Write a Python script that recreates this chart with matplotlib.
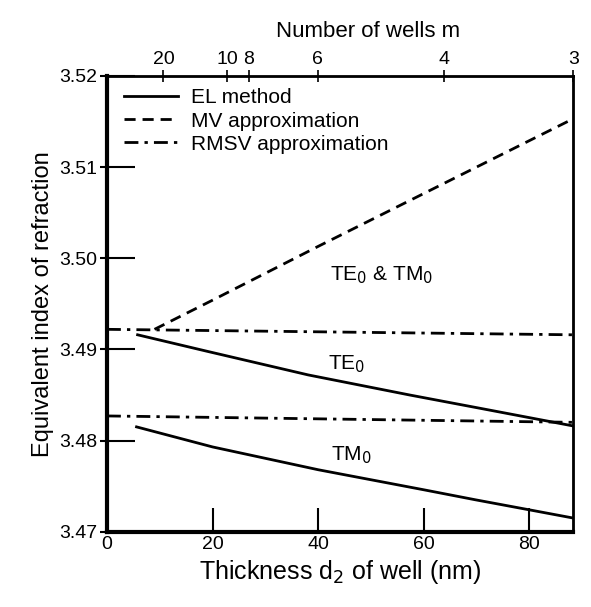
import matplotlib
matplotlib.use("Agg")
import matplotlib.pyplot as plt

plt.rcParams['font.family'] = ['Liberation Sans', 'DejaVu Sans']

# data
te_x = [5.8, 18.9, 38.1, 57.3, 70.1, 88.3]
te_y = [3.4916, 3.4898, 3.4872, 3.4850, 3.4836, 3.4816]

tm_x = [5.6, 20, 40, 60, 69.8, 80, 88.3]
tm_y = [3.4815, 3.4793, 3.4768, 3.4746, 3.4735, 3.4724, 3.4715]

mv_x = [9.0, 20, 40, 60, 80, 88.3]
mv_y = [3.4922, 3.4954, 3.5013, 3.5071, 3.5129, 3.5153]

rmsv_te_x = [0, 88.3]
rmsv_te_y = [3.4922, 3.4916]
rmsv_tm_x = [0, 88.3]
rmsv_tm_y = [3.4827, 3.4820]

wells_m = ['20', '10', '8', '6', '4', '3']
wells_pos = [10.7, 22.8, 26.9, 39.9, 63.8, 88.3]

yticks = [3.47, 3.48, 3.49, 3.50, 3.51, 3.52]

fig = plt.figure(figsize=(5.91, 6.07), dpi=100)
ax = fig.add_axes([0.181, 0.124, 0.789, 0.751])

lw = 2.0
ax.plot(te_x, te_y, 'k-', lw=lw, label='EL method')
ax.plot(tm_x, tm_y, 'k-', lw=lw)
ax.plot(mv_x, mv_y, 'k', lw=lw, dashes=(4, 2.5), label='MV approximation')
ax.plot(rmsv_te_x, rmsv_te_y, 'k', lw=lw, dashes=(5, 2.2, 1.2, 2.2),
        label='RMSV approximation')
ax.plot(rmsv_tm_x, rmsv_tm_y, 'k', lw=lw, dashes=(5, 2.2, 1.2, 2.2))

ax.set_xlim(0, 88.3)
ax.set_ylim(3.47, 3.52)
ax.set_xticks([0, 20, 40, 60, 80])
ax.set_yticks(yticks)
ax.set_yticklabels(['%.2f' % v for v in yticks])
ax.tick_params(axis='x', direction='in', length=17, width=1.5,
               labelsize=14, pad=3)
ax.tick_params(axis='y', direction='in', length=20, width=1.5,
               labelsize=14, pad=7)

# short outer stubs of the left ticks
ax_out = ax.secondary_yaxis('left')
ax_out.set_yticks(yticks)
ax_out.tick_params(axis='y', direction='out', length=5, width=1.5,
                   labelleft=False)
ax_out.spines['left'].set_visible(False)

ax.spines['left'].set_linewidth(3)
ax.spines['bottom'].set_linewidth(3)
ax.spines['top'].set_linewidth(2)
ax.spines['right'].set_linewidth(2)

ax.set_xlabel('Thickness d$_2$ of well (nm)', fontsize=18, labelpad=4)
ax.set_ylabel('Equivalent index of refraction', fontsize=17, labelpad=4)

ax2 = ax.twiny()
ax2.set_xlim(ax.get_xlim())
ax2.set_xticks(wells_pos)
ax2.set_xticklabels(wells_m)
ax2.tick_params(axis='x', direction='inout', length=8, width=1.2,
                labelsize=14, pad=2)
ax2.set_xlabel('Number of wells m', fontsize=16, labelpad=4)
ax2.xaxis.set_label_coords(0.56, 1.085)

ax.text(52, 3.4981, 'TE$_0$ & TM$_0$', fontsize=15, ha='center', va='center')
ax.text(45.3, 3.4884, 'TE$_0$', fontsize=15, ha='center', va='center')
ax.text(46.2, 3.4784, 'TM$_0$', fontsize=15, ha='center', va='center')

ax.legend(loc='upper left', frameon=False, fontsize=15, handlelength=2.6,
          handletextpad=0.6, labelspacing=0.2, borderaxespad=0.2,
          bbox_to_anchor=(0.01, 1.0))

fig.savefig('out.png', dpi=100)
